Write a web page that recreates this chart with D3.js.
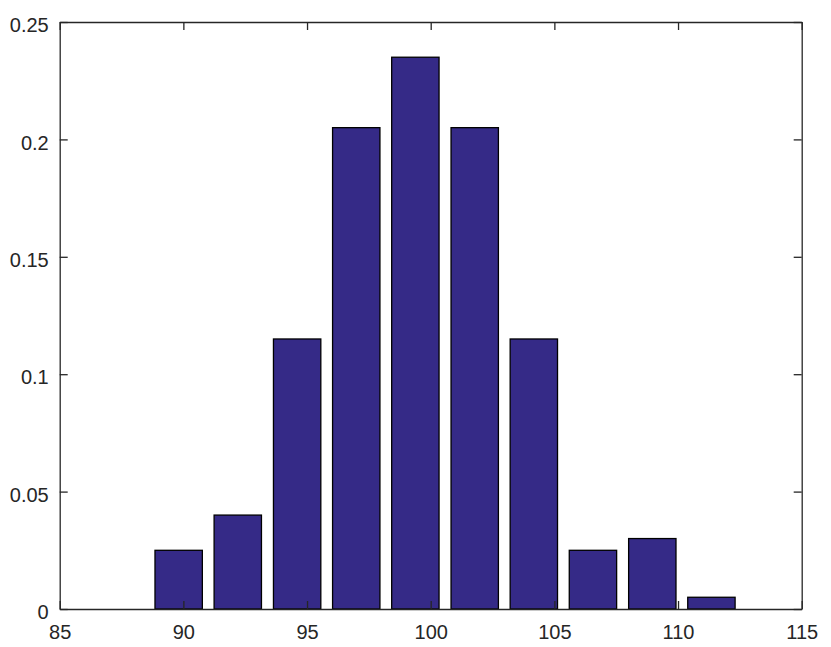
<!DOCTYPE html>
<html>
<head>
<meta charset="utf-8">
<script src="https://cdn.jsdelivr.net/npm/d3@7"></script>
<style>
  body { margin: 0; background: #fff; }
  .axis text { font-family: "Liberation Sans", Arial, sans-serif; font-size: 20px; fill: #262626; }
  .axis path, .axis line { stroke: #262626; stroke-width: 1.3px; }
</style>
</head>
<body>
<div id="chart"></div>
<script>
// bin centres and relative frequencies
var binCenters = [89.81, 92.20, 94.60, 96.99, 99.38, 101.78, 104.17, 106.56, 108.96, 111.35];
var frequencies = [0.025, 0.04, 0.115, 0.205, 0.235, 0.205, 0.115, 0.025, 0.03, 0.005];
var xTicks = [85, 90, 95, 100, 105, 110, 115];
var yTicks = [0, 0.05, 0.1, 0.15, 0.2, 0.25];
var yTickLabels = ["0", "0.05", "0.1", "0.15", "0.2", "0.25"];

var totalW = 831, totalH = 647;
var margin = {top: 22, right: 29.3, bottom: 38, left: 59.7},
    width = totalW - margin.left - margin.right,
    height = totalH - margin.top - margin.bottom;
var barWidth = 1.915; // in x units (0.8 of the bin width)

var svg = d3.select("#chart")
  .append("svg")
    .attr("width", totalW)
    .attr("height", totalH)
  .append("g")
    .attr("transform", "translate(" + margin.left + "," + margin.top + ")");

var x = d3.scaleLinear().domain([85, 115]).range([0, width]);
var y = d3.scaleLinear().domain([0, 0.25]).range([height, 0]);

// bars
svg.append("g")
  .selectAll("rect")
  .data(binCenters)
  .enter()
  .append("rect")
    .attr("x", function(d) { return x(d - barWidth / 2); })
    .attr("width", function(d) { return x(d + barWidth / 2) - x(d - barWidth / 2); })
    .attr("y", function(d, i) { return y(frequencies[i]); })
    .attr("height", function(d, i) { return height - y(frequencies[i]); })
    .style("fill", "#352a87")
    .style("stroke", "#000")
    .style("stroke-width", 1.3);

// axes, ticks pointing inward on all four sides
svg.append("g")
  .attr("class", "axis")
  .attr("transform", "translate(0," + height + ")")
  .call(d3.axisBottom(x).tickValues(xTicks).tickSizeInner(-8).tickSizeOuter(0).tickPadding(16));

svg.append("g")
  .attr("class", "axis")
  .call(d3.axisTop(x).tickValues(xTicks).tickSizeInner(-8).tickSizeOuter(0).tickFormat(""));

var yAxis = svg.append("g")
  .attr("class", "axis")
  .call(d3.axisLeft(y).tickValues(yTicks).tickSizeInner(-8).tickSizeOuter(0).tickPadding(11)
    .tickFormat(function(d, i) { return yTickLabels[i]; }));
yAxis.selectAll("text").attr("dy", "0.48em");

svg.append("g")
  .attr("class", "axis")
  .attr("transform", "translate(" + width + ",0)")
  .call(d3.axisRight(y).tickValues(yTicks).tickSizeInner(-8).tickSizeOuter(0).tickFormat(""));
</script>
</body>
</html>
